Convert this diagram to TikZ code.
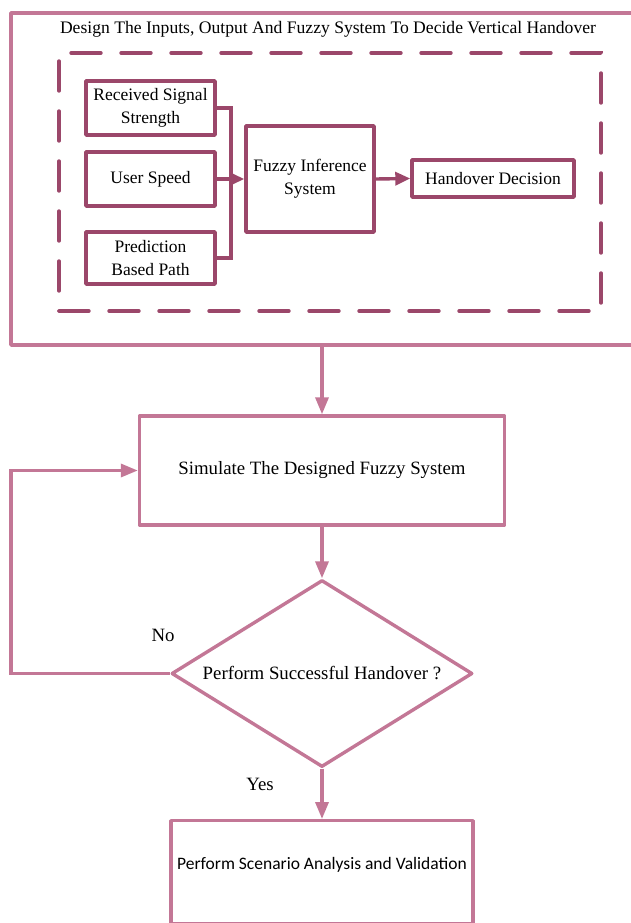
\documentclass[tikz,border=0pt]{standalone}
\usepackage{fontspec}
\setmainfont{Liberation Serif}
\newfontfamily\calibrifont{Carlito}
\usetikzlibrary{arrows.meta,shapes.geometric,positioning}
\definecolor{plumlight}{RGB}{195,119,150}
\definecolor{plumdark}{RGB}{155,71,106}
\begin{document}
\begin{tikzpicture}[x=1pt,y=-1pt,line width=3.4pt,
  outline/.style={draw=plumlight,line join=round},
  inbox/.style={draw=plumdark,line join=round,align=center,inner sep=0pt,font=\fontsize{17.5}{23}\selectfont},
  flowbox/.style={outline,align=center,inner sep=0pt,font=\fontsize{18.8}{22}\selectfont},
  dashbox/.style={draw=plumdark,line cap=round,dash pattern=on 30pt off 20pt},
  arr/.style={-{Triangle[length=17pt,width=13pt]}},
  inarr/.style={-{Triangle[length=15pt,width=13pt]}}]
\useasboundingbox (0,0) rectangle (630,923);
\node[outline,minimum width=635pt,minimum height=332pt] (design) at (328.5,179) {};
\node[font=\fontsize{17.6}{20}\selectfont] (title) at (328,29) {Design The Inputs, Output And Fuzzy System To Decide Vertical Handover};
\node[dashbox,minimum width=542pt,minimum height=258pt] (fuzzyframe) at (330,182) {};
\node[inbox,minimum width=129pt,minimum height=54pt] (rss) at (150.5,108) {Received Signal\\Strength};
\node[inbox,minimum width=129pt,minimum height=54pt] (speed) at (150.5,179) {User Speed};
\node[inbox,minimum width=129pt,minimum height=52pt] (pbp) at (150.5,258) {Prediction\\Based Path};
\node[inbox,minimum width=128pt,minimum height=106pt] (fis) at (310,179) {Fuzzy Inference\\System};
\node[inbox,minimum width=162pt,minimum height=37pt] (hd) at (493,178.5) {Handover Decision};
\coordinate (merge) at (231,179);
\draw[plumdark] (rss.east) -| (merge) |- (pbp.east);
\draw[plumdark,inarr] (speed.east) -- (fis.west);
\draw[plumdark,inarr] (fis.east) -- (hd.west);
\node[flowbox,minimum width=365pt,minimum height=109pt] (sim) at (322,470.5) {Simulate The Designed Fuzzy System};
\node[flowbox,diamond,aspect=1.6,minimum width=301pt,minimum height=187pt] (chk) at (322,673.5) {Perform Successful Handover ?};
\node[outline,anchor=north,minimum width=302pt,text height=49pt,text depth=54pt,inner sep=0pt,font=\calibrifont\fontsize{17.5}{20}\selectfont] (fin) at (322,819) {Perform Scenario Analysis and Validation};
\coordinate (loopback) at (11,0);
\draw[plumlight,arr] (design.south -| sim.north) -- (sim.north);
\draw[plumlight,arr] (sim.south) -- (chk.north);
\draw[plumlight,arr] (chk.south) -- (fin.north);
\draw[plumlight,arr] (chk.west) -- (chk.west -| loopback) |- (sim.west);
\node[font=\fontsize{18.8}{22}\selectfont] (no) at (163,635) {No};
\node[font=\fontsize{18.8}{22}\selectfont] (yes) at (260,784) {Yes};
\end{tikzpicture}
\end{document}
